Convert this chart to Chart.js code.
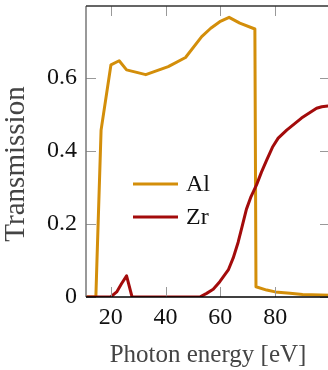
<!DOCTYPE html>
<html>
<head>
<meta charset="utf-8">
<script src="https://cdn.jsdelivr.net/npm/chart.js@4"></script>
<style>
  html, body { margin: 0; padding: 0; overflow: hidden; background: #fff; }
  #wrap { width: 340px; height: 370px; }
</style>
</head>
<body>
<div id="wrap"><canvas id="chart" width="340" height="370"></canvas></div>
<script>
// photon energy [eV] and transmission
const alEnergy = [11, 14.6, 15.0, 16.5, 20.1, 23.1, 25.8, 32.8, 41, 47.3, 53.2, 56.5, 59.8, 63.2, 67.1, 72.6, 73.0, 76.9, 80, 85.4, 90, 100];
const alTrans  = [0, 0, 0.1, 0.457, 0.636, 0.647, 0.622, 0.609, 0.631, 0.656, 0.713, 0.736, 0.754, 0.766, 0.75, 0.734, 0.028, 0.019, 0.014, 0.01, 0.007, 0.005];

const zrEnergy = [11, 20, 22.2, 24, 25.8, 27.8, 52.5, 55, 57.4, 59.8, 62.9, 64.7, 66.5, 68, 69.5, 71.2, 73.2, 75, 76.9, 79, 81.1, 84.2, 89.6, 95.1, 97, 100];
const zrTrans  = [0, 0, 0.014, 0.037, 0.058, 0, 0, 0.01, 0.021, 0.042, 0.074, 0.107, 0.15, 0.195, 0.24, 0.275, 0.307, 0.342, 0.375, 0.41, 0.435, 0.457, 0.49, 0.517, 0.521, 0.524];

const xTicks = [20, 40, 60, 80];
const yTicks = [0, 0.2, 0.4, 0.6];

const FONT = "'Liberation Serif', 'Times New Roman', serif";

function points(xs, ys) {
    return xs.map((x, i) => ({ x: x, y: ys[i] }));
}

// pgfplots style box: frame plus inward ticks on all four sides
const frame = {
    id: 'frame',
    afterDraw(chart) {
        const { ctx, chartArea: a, scales } = chart;
        ctx.save();
        ctx.strokeStyle = '#999';
        ctx.lineWidth = 1;
        const len = 10;
        xTicks.forEach(v => {
            const px = Math.round(scales.x.getPixelForValue(v)) + 0.5;
            ctx.beginPath();
            ctx.moveTo(px, a.bottom); ctx.lineTo(px, a.bottom - len);
            ctx.moveTo(px, a.top); ctx.lineTo(px, a.top + len);
            ctx.stroke();
        });
        yTicks.forEach(v => {
            const py = Math.round(scales.y.getPixelForValue(v)) + 0.5;
            ctx.beginPath();
            ctx.moveTo(a.left, py); ctx.lineTo(a.left + len, py);
            ctx.moveTo(a.right, py); ctx.lineTo(a.right - len, py);
            ctx.stroke();
        });
        ctx.lineWidth = 1.5;
        ctx.strokeStyle = '#777';
        ctx.beginPath(); ctx.moveTo(a.left, a.top); ctx.lineTo(a.left, a.bottom); ctx.stroke();
        ctx.strokeStyle = '#333';
        ctx.beginPath(); ctx.moveTo(a.left, a.top); ctx.lineTo(a.right, a.top); ctx.lineTo(a.right, a.bottom); ctx.stroke();
        ctx.strokeStyle = '#000';
        ctx.beginPath(); ctx.moveTo(a.left, a.bottom); ctx.lineTo(a.right, a.bottom); ctx.stroke();

        // y axis title, drawn here so it can sit where the original puts it
        ctx.font = '29px ' + FONT;
        ctx.fillStyle = '#444';
        ctx.textAlign = 'center';
        ctx.textBaseline = 'middle';
        ctx.translate(16, 164);
        ctx.rotate(-Math.PI / 2);
        ctx.fillText('Transmission', 0, 0);
        ctx.restore();
    }
};

// legend sits inside the plot, no box
const insideLegend = {
    id: 'insideLegend',
    afterDraw(chart) {
        const ctx = chart.ctx;
        const rows = [chart.data.datasets[1], chart.data.datasets[0]];
        ctx.save();
        ctx.font = '24px ' + FONT;
        ctx.textBaseline = 'middle';
        rows.forEach((ds, i) => {
            const y = 184 + i * 33;
            ctx.strokeStyle = ds.borderColor;
            ctx.lineWidth = 3;
            ctx.beginPath(); ctx.moveTo(133, y); ctx.lineTo(178, y); ctx.stroke();
            ctx.fillStyle = '#111';
            ctx.fillText(ds.label, 186, y + 1);
        });
        ctx.restore();
    }
};

new Chart(document.getElementById('chart').getContext('2d'), {
    type: 'line',
    data: {
        datasets: [
            {
                label: 'Zr',
                data: points(zrEnergy, zrTrans),
                borderColor: '#A30B0B',
                borderWidth: 3,
                pointRadius: 0,
                tension: 0,
                borderJoinStyle: 'round',
                order: 0
            },
            {
                label: 'Al',
                data: points(alEnergy, alTrans),
                borderColor: '#D38E0A',
                borderWidth: 3,
                pointRadius: 0,
                tension: 0,
                borderJoinStyle: 'round',
                order: 1
            }
        ]
    },
    options: {
        responsive: false,
        animation: false,
        devicePixelRatio: 1,
        layout: { padding: { left: 0, right: 10, top: 6, bottom: 0 } },
        plugins: {
            legend: { display: false },
            tooltip: { enabled: false }
        },
        scales: {
            x: {
                type: 'linear',
                min: 11,
                max: 100,
                afterFit: s => { s.height = 73; s.paddingLeft = 0; s.paddingRight = 0; },
                afterBuildTicks: s => { s.ticks = xTicks.map(v => ({ value: v })); },
                grid: { display: false, drawTicks: false },
                border: { display: false },
                ticks: {
                    padding: 6,
                    color: '#111',
                    font: { family: FONT, size: 24 },
                    maxRotation: 0
                },
                title: {
                    display: true,
                    text: 'Photon energy [eV]',
                    color: '#444',
                    font: { family: FONT, size: 25 },
                    padding: { top: 2, bottom: 0 }
                }
            },
            y: {
                min: 0,
                max: 0.797,
                afterFit: s => { s.width = 86; s.paddingTop = 0; s.paddingBottom = 0; },
                afterBuildTicks: s => { s.ticks = yTicks.map(v => ({ value: v })); },
                grid: { display: false, drawTicks: false },
                border: { display: false },
                ticks: {
                    padding: 9,
                    color: '#111',
                    font: { family: FONT, size: 24 },
                    callback: v => v === 0 ? '0' : v.toFixed(1)
                }
            }
        }
    },
    plugins: [frame, insideLegend]
});
</script>
</body>
</html>
